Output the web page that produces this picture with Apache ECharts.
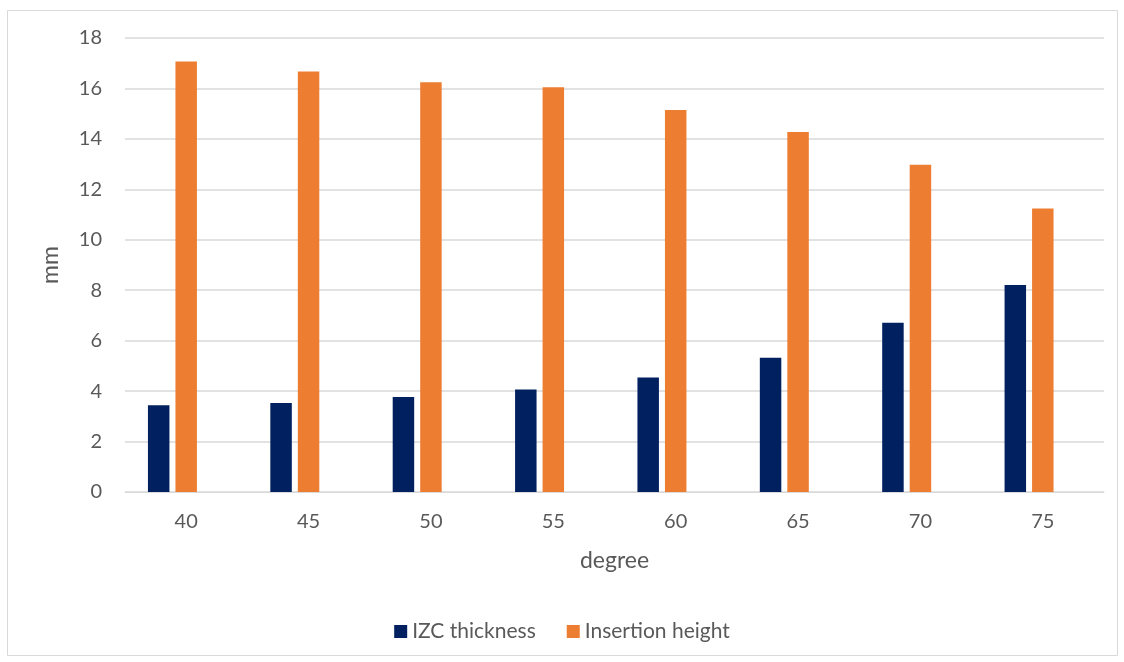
<!DOCTYPE html>
<html>
<head>
<meta charset="utf-8">
<script src="https://cdn.jsdelivr.net/npm/echarts@6/dist/echarts.min.js"></script>
<style>
  html, body { margin: 0; padding: 0; background: #fff; }
  #chart { width: 1124px; height: 662px; }
</style>
</head>
<body>
<div id="chart"></div>
<script>
// Angle categories (degrees)
const degrees = ['40', '45', '50', '55', '60', '65', '70', '75'];
// IZC thickness (mm)
const izcThickness = [3.44, 3.53, 3.77, 4.06, 4.54, 5.32, 6.71, 8.21];
// Insertion height (mm)
const insertionHeight = [17.07, 16.67, 16.25, 16.05, 15.15, 14.27, 12.97, 11.24];
// Empty third slot keeps the two bars offset left within each category
const emptySlot = [null, null, null, null, null, null, null, null];

const textColor = '#595959';
const fontFamily = 'Lato, "Open Sans", sans-serif';

const chart = echarts.init(document.getElementById('chart'), null, { renderer: 'canvas' });
chart.setOption({
  animation: false,
  backgroundColor: '#ffffff',
  textStyle: { fontFamily: fontFamily },
  graphic: [{
    type: 'rect',
    shape: { x: 7.5, y: 10.5, width: 1110, height: 645 },
    style: { fill: 'none', stroke: '#d9d9d9', lineWidth: 1 },
    silent: true
  }],
  grid: { left: 125, right: 20, top: 38, bottom: 170, containLabel: false },
  legend: {
    data: ['IZC thickness', 'Insertion height'],
    bottom: 15,
    left: 'center',
    icon: 'rect',
    itemWidth: 13,
    itemHeight: 13,
    itemGap: 31,
    textStyle: { color: textColor, fontSize: 21, fontFamily: fontFamily }
  },
  xAxis: {
    type: 'category',
    data: degrees,
    name: 'degree',
    nameLocation: 'middle',
    nameGap: 57,
    nameTextStyle: { color: textColor, fontSize: 23, fontFamily: fontFamily },
    axisLine: { lineStyle: { color: '#d9d9d9', width: 1 } },
    axisTick: { show: false },
    axisLabel: { color: textColor, fontSize: 20, margin: 20, fontFamily: fontFamily }
  },
  yAxis: {
    type: 'value',
    min: 0,
    max: 18,
    interval: 2,
    name: 'mm',
    nameLocation: 'middle',
    nameGap: 63,
    nameRotate: 90,
    nameTextStyle: { color: textColor, fontSize: 23, fontFamily: fontFamily },
    axisLine: { show: false },
    axisTick: { show: false },
    axisLabel: { color: textColor, fontSize: 20, margin: 23, fontFamily: fontFamily },
    splitLine: { lineStyle: { color: '#d9d9d9', width: 1.5 } }
  },
  series: [
    {
      name: 'IZC thickness',
      type: 'bar',
      data: izcThickness,
      itemStyle: { color: '#00205F' },
      barGap: '28%',
      barCategoryGap: '37.5%'
    },
    {
      name: 'Insertion height',
      type: 'bar',
      data: insertionHeight,
      itemStyle: { color: '#ED7D31' }
    },
    {
      name: 'spacer',
      type: 'bar',
      data: emptySlot,
      silent: true
    }
  ]
});
</script>
</body>
</html>
